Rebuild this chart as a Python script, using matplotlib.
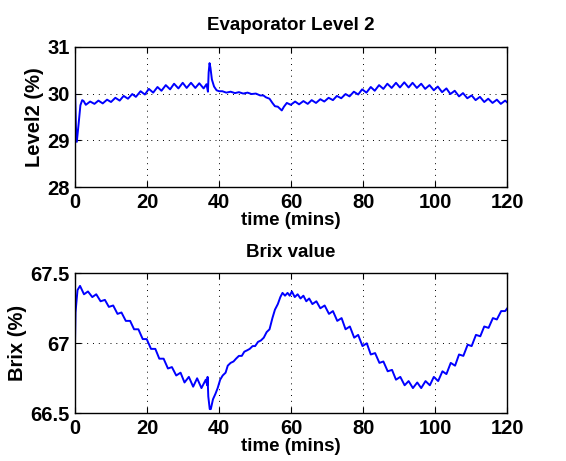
import matplotlib
matplotlib.use('Agg')
import matplotlib.pyplot as plt

# Evaporator level 2 (%) - peaks/troughs
level_t = [0, 0.25, 0.5, 1.0, 1.5, 2.0, 2.4,
           3.0, 4.2, 5.4, 6.5, 7.7, 8.9, 10.0, 11.2, 12.4, 13.5, 14.7, 15.9,
           16.9, 18.2, 19.4, 20.5, 21.7, 22.9, 24.0, 25.2, 26.4, 27.5, 28.7,
           29.9, 31.0, 32.2, 33.4, 34.5, 35.7, 36.5,
           36.9, 37.1, 37.35, 37.6, 38.0, 38.6, 39.3, 40.0,
           40.9, 42.0, 43.2, 44.4, 45.5, 46.7, 47.9, 49.0, 50.2, 51.4,
           52.3, 53.0, 54.0, 54.8, 55.5, 56.3, 57.4, 58.0, 58.8,
           59.9, 61.1, 62.2, 63.4, 64.6, 65.7, 66.9, 68.1, 69.2, 70.4, 71.6,
           72.7, 73.9, 75.1, 76.2, 77.4, 78.6, 79.7, 80.9, 82.1, 83.2, 84.4,
           85.6, 86.7, 87.9, 89.1, 90.2, 91.4, 92.6, 93.7, 94.9, 96.1, 97.2,
           98.4, 99.6, 100.7, 101.9, 103.1, 104.2, 105.4, 106.6, 107.7, 108.9,
           110.1, 111.2, 112.4, 113.6, 114.7, 115.9, 117.1, 118.2, 119.4, 120.0]
level = [30.12, 29.3, 28.97, 29.35, 29.75, 29.86, 29.84,
         29.76, 29.83, 29.78, 29.85, 29.79, 29.87, 29.82, 29.91, 29.85, 29.95, 29.89, 29.99,
         29.93, 30.05, 29.98, 30.10, 30.02, 30.14, 30.06, 30.18, 30.09, 30.21, 30.11,
         30.23, 30.12, 30.23, 30.12, 30.22, 30.11, 30.20,
         30.04, 30.45, 30.65, 30.55, 30.30, 30.15, 30.07, 30.05,
         30.05, 30.02, 30.04, 30.01, 30.03, 30.00, 30.02, 29.99, 30.00, 29.96,
         29.96, 29.92, 29.89, 29.80, 29.73, 29.72, 29.64, 29.72, 29.80,
         29.76, 29.83, 29.77, 29.84, 29.78, 29.86, 29.80, 29.88, 29.83, 29.91, 29.86,
         29.95, 29.90, 29.99, 29.94, 30.04, 29.98, 30.09, 30.02, 30.14, 30.06, 30.18,
         30.10, 30.21, 30.12, 30.23, 30.13, 30.24, 30.13, 30.23, 30.12, 30.21, 30.10,
         30.18, 30.07, 30.15, 30.03, 30.11, 29.99, 30.06, 29.94, 30.01, 29.90,
         29.96, 29.86, 29.93, 29.82, 29.89, 29.80, 29.87, 29.78, 29.85, 29.81]

# Brix value (%)
brix_t = [0, 0.15, 0.35, 0.7, 1.4,
          2.5, 3.6, 4.8, 5.9, 7.1, 8.3, 9.4, 10.6, 11.8, 12.9, 14.1, 15.3,
          16.4, 17.6, 18.8, 19.9, 21.1, 22.3, 23.4, 24.6, 25.8, 26.9, 28.1,
          29.3, 30.4, 31.6, 32.8, 33.9, 35.1, 36.3,
          36.7, 36.8, 37.0, 37.4, 37.7, 38.3, 39.0, 39.6, 40.3, 41.0, 41.8,
          42.4, 43.2, 44.0, 44.7, 45.5, 46.3, 47.0, 47.8, 48.5, 49.3, 50.0,
          50.8, 51.6, 52.4, 53.2, 54.0, 54.8, 55.5, 56.3, 57.0, 57.6, 58.3,
          59.0, 59.6, 60.2, 61.0, 61.8, 62.6, 63.4, 64.2, 65.0, 65.9, 67.0,
          68.1, 69.3, 70.5, 71.6, 72.8, 74.0, 75.1, 76.3, 77.5, 78.6, 79.8,
          81.0, 82.1, 83.3, 84.5, 85.6, 86.8, 88.0, 89.1, 90.3, 91.5, 92.6,
          93.8, 95.0, 96.1, 97.3, 98.5, 99.6, 100.8, 102.0, 103.1, 104.3,
          105.5, 106.6, 107.8, 109.0, 110.1, 111.3, 112.5, 113.6, 114.8,
          116.0, 117.1, 118.3, 119.4, 120.0]
brix = [67.0, 67.22, 67.28, 67.38, 67.41,
        67.35, 67.37, 67.33, 67.35, 67.30, 67.31, 67.26, 67.27, 67.21, 67.22, 67.16, 67.16,
        67.10, 67.10, 67.03, 67.03, 66.96, 66.96, 66.89, 66.89, 66.82, 66.83, 66.77,
        66.79, 66.72, 66.76, 66.69, 66.75, 66.68, 66.74,
        66.70, 66.76, 66.62, 66.53, 66.53, 66.60, 66.64, 66.68, 66.74, 66.77, 66.79,
        66.84, 66.86, 66.87, 66.89, 66.91, 66.91, 66.94, 66.95, 66.96, 66.98, 66.98,
        67.01, 67.02, 67.04, 67.08, 67.10, 67.18, 67.24, 67.28, 67.33, 67.36, 67.34,
        67.36, 67.34, 67.37, 67.33, 67.35, 67.32, 67.34, 67.30, 67.32, 67.28, 67.30,
        67.25, 67.27, 67.21, 67.23, 67.16, 67.18, 67.10, 67.12, 67.04, 67.06, 66.98,
        67.00, 66.92, 66.93, 66.86, 66.87, 66.80, 66.81, 66.74, 66.76, 66.70, 66.73,
        66.68, 66.72, 66.68, 66.73, 66.70, 66.76, 66.73, 66.80, 66.78, 66.86,
        66.84, 66.92, 66.91, 66.99, 66.98, 67.06, 67.05, 67.12, 67.11,
        67.18, 67.17, 67.23, 67.23, 67.25]

x_ticks = [0, 20, 40, 60, 80, 100, 120]
level_ticks = [28, 29, 30, 31]
brix_ticks = [66.5, 67, 67.5]
brix_ticklabels = ['66.5', '67', '67.5']

plt.rcParams['font.family'] = ['Liberation Sans', 'DejaVu Sans']
plt.rcParams['font.weight'] = 'bold'
plt.rcParams['font.size'] = 13.5

fig = plt.figure(figsize=(5.66, 4.61), dpi=100)
ax1 = fig.add_axes([0.1325, 0.5937, 0.7638, 0.305])
ax2 = fig.add_axes([0.1325, 0.1035, 0.7638, 0.3037])


def style(ax):
    ax.set_xlim(0, 120)
    ax.set_xticks(x_ticks)
    ax.grid(True, color='black', linestyle=(0, (1, 5)), linewidth=0.7)
    ax.tick_params(direction='in', length=4, width=0.8, top=True, right=True,
                   pad=4, labelsize=14.5)
    for s in ax.spines.values():
        s.set_linewidth(1.0)
    ax.set_xlabel('time (mins)', fontweight='bold', fontsize=13.5, labelpad=0)


ax1.plot(level_t, level, color='blue', linewidth=1.4)
ax1.set_ylim(28, 31)
ax1.set_yticks(level_ticks)
style(ax1)
ax1.set_ylabel('Level2 (%)', fontweight='bold', fontsize=14.5, labelpad=2)
ax1.set_title('Evaporator Level 2', fontweight='bold', fontsize=13.5, pad=12)

ax2.plot(brix_t, brix, color='blue', linewidth=1.4)
ax2.set_ylim(66.5, 67.5)
ax2.set_yticks(brix_ticks)
ax2.set_yticklabels(brix_ticklabels)
style(ax2)
ax2.set_ylabel('Brix (%)', fontweight='bold', fontsize=14.5, labelpad=2)
ax2.set_title('Brix value', fontweight='bold', fontsize=13.5, pad=12)

fig.savefig('out.png', dpi=100)
